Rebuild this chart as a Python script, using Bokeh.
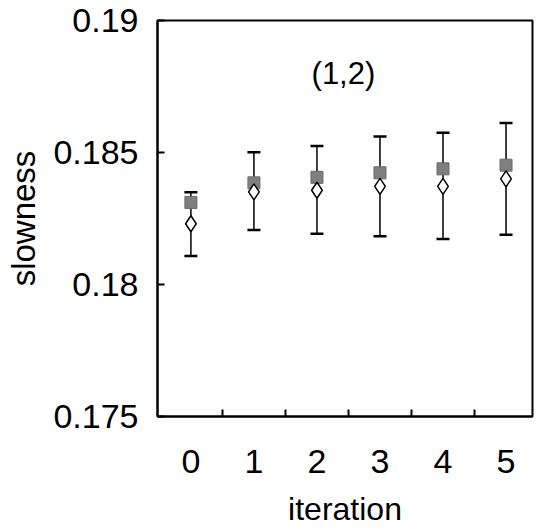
from bokeh.plotting import figure
from bokeh.models import (ColumnDataSource, FixedTicker, Whisker, TeeHead, Label,
                          CustomJSTickFormatter, Range1d)
from bokeh.embed import file_html
from bokeh.resources import INLINE

iteration = [0, 1, 2, 3, 4, 5]
slowness_square = [0.18311, 0.18385, 0.18406, 0.18423, 0.18438, 0.18452]
slowness_diamond = [0.18230, 0.18351, 0.18357, 0.18372, 0.18372, 0.18400]
err_upper = [0.18349, 0.18501, 0.18525, 0.18561, 0.18575, 0.18612]
err_lower = [0.18108, 0.18206, 0.18192, 0.18183, 0.18172, 0.18188]
x_ticks = [0, 1, 2, 3, 4, 5]
x_minor = [0.5, 1.5, 2.5, 3.5, 4.5]
y_ticks = [0.175, 0.18, 0.185, 0.19]
panel_label = "(1,2)"

FONT = "Liberation Sans"

src = ColumnDataSource(dict(x=iteration, sq=slowness_square, dm=slowness_diamond,
                            up=err_upper, lo=err_lower))

p = figure(width=544, height=530, output_backend="svg", toolbar_location=None,
           x_range=Range1d(-0.53, 5.42), y_range=Range1d(0.175, 0.19))
p.min_border_left = 157
p.min_border_right = 12
p.min_border_top = 20
p.min_border_bottom = 114
p.background_fill_color = "white"
p.border_fill_color = "white"
p.outline_line_color = "black"
p.outline_line_width = 2
p.xgrid.visible = False
p.ygrid.visible = False

# x axis
xa = p.xaxis[0]
xa.ticker = FixedTicker(ticks=x_ticks, minor_ticks=x_minor)
xa.major_tick_in = 0
xa.major_tick_out = 0
xa.minor_tick_in = 7
xa.minor_tick_out = 0
xa.minor_tick_line_color = "black"
xa.minor_tick_line_width = 2
xa.axis_line_width = 2
xa.major_label_standoff = 33
xa.major_label_text_font = FONT
xa.major_label_text_font_size = "34px"
xa.major_label_text_color = "black"
xa.axis_label = "iteration"
xa.axis_label_text_font = FONT
xa.axis_label_text_font_size = "32px"
xa.axis_label_text_font_style = "normal"
xa.axis_label_text_color = "black"
xa.axis_label_standoff = 15

# y axis
ya = p.yaxis[0]
ya.ticker = FixedTicker(ticks=y_ticks, minor_ticks=[])
ya.formatter = CustomJSTickFormatter(code="return tick.toFixed(3).replace(/0+$/, '');")
ya.major_tick_in = 7
ya.major_tick_out = 0
ya.major_tick_line_width = 2
ya.axis_line_width = 2
ya.major_label_standoff = 19
ya.major_label_text_font = FONT
ya.major_label_text_font_size = "34px"
ya.major_label_text_color = "black"
ya.axis_label = "slowness"
ya.axis_label_text_font = FONT
ya.axis_label_text_font_size = "33px"
ya.axis_label_text_font_style = "normal"
ya.axis_label_text_color = "black"
ya.axis_label_standoff = 8

# error bars
w = Whisker(source=src, base="x", upper="up", lower="lo", dimension="height",
            line_color="black", line_width=1.5,
            upper_head=TeeHead(size=13, line_width=2.5, line_color="black"),
            lower_head=TeeHead(size=13, line_width=2.5, line_color="black"))
p.add_layout(w)

p.scatter("x", "sq", source=src, marker="square", size=12,
          fill_color="#7f7f7f", line_color="#6a6a6a", line_width=1)
p.scatter("x", "dm", source=src, marker="diamond", size=16,
          fill_color="white", line_color="black", line_width=1.5)

p.add_layout(Label(x=2.42, y=0.1880, text=panel_label, text_align="center",
                   text_baseline="middle", text_font=FONT, text_font_size="31px",
                   text_color="black"))

open("out.html", "w").write(file_html(p, INLINE))
